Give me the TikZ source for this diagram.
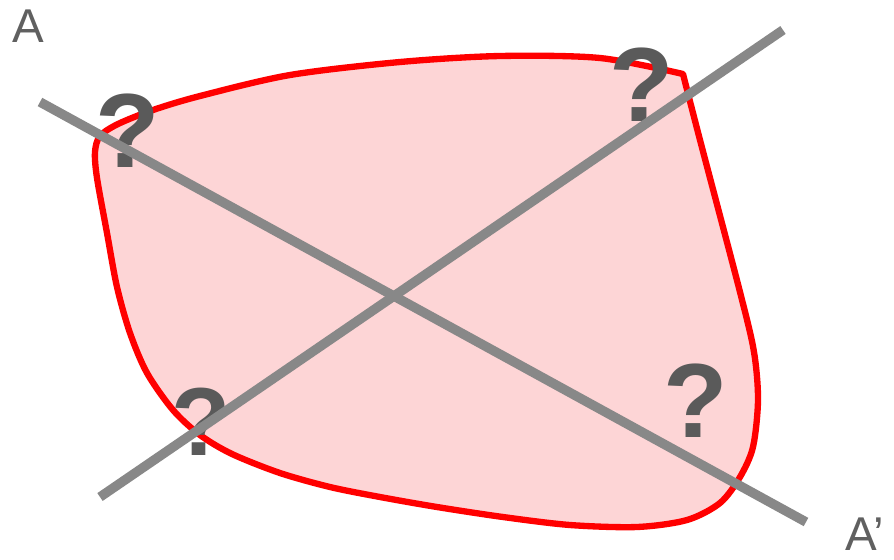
\documentclass[tikz,border=0pt]{standalone}
\usepackage{fontspec}
\setmainfont{Liberation Sans}
\usetikzlibrary{positioning}
\definecolor{BlobRed}{HTML}{FF0000}
\definecolor{BlobFill}{HTML}{FDD5D6}
\definecolor{CutGray}{HTML}{888888}
\definecolor{MarkGray}{HTML}{5A5A5A}
\definecolor{LabelGray}{HTML}{606060}

\begin{document}
\begin{tikzpicture}[x=0.02cm,y=-0.02cm,
    cut/.style={line width=5.4pt,CutGray},
    qmark/.style={inner sep=0pt,text=MarkGray,font=\fontsize{60}{60}\selectfont\bfseries},
    endlabel/.style={inner sep=0pt,text=LabelGray,font=\fontsize{27}{27}\selectfont}]
    \useasboundingbox (0,0) rectangle (894,559);
    % the region
    \draw[BlobRed,line width=3.6pt,fill=BlobFill,line join=round] plot[smooth,tension=0.5] coordinates {
      (683,74) (600,58) (500,56) (400,62) (290,75) (200,96) (153,110) (118,124) (100,136)
      (95,152) (97,178) (107,233) (117,287) (130,333) (147,373) (173,410) (200,435)
      (232,454) (280,473) (330,487) (380,497) (437,507) (503,517) (570,525) (637,527)
      (687,520) (720,503) (740,477) (753,447) (758,400) (754,352) (740,292)
      (700,140) (683,74)} -- cycle;
    \node[qmark] (qTL) at (128,131) {?};
    \node[qmark] (qTR) at (642,85) {?};
    \node[qmark,font=\fontsize{55}{55}\selectfont\bfseries] (qBL) at (201,422) {?};
    \node[qmark] (qBR) at (696,401) {?};
    % the two cuts
    \coordinate (aStart) at (40,102);
    \coordinate (aEnd) at (806,522);
    \coordinate (bStart) at (100,497);
    \coordinate (bEnd) at (783,30);
    \draw[cut] (aStart) -- (aEnd);
    \draw[cut] (bStart) -- (bEnd);
    \node[endlabel,anchor=base west] (labA) at (12,42) {A};
    \node[endlabel,anchor=base west] (labAp) at (845,550) {A’};
\end{tikzpicture}
\end{document}
